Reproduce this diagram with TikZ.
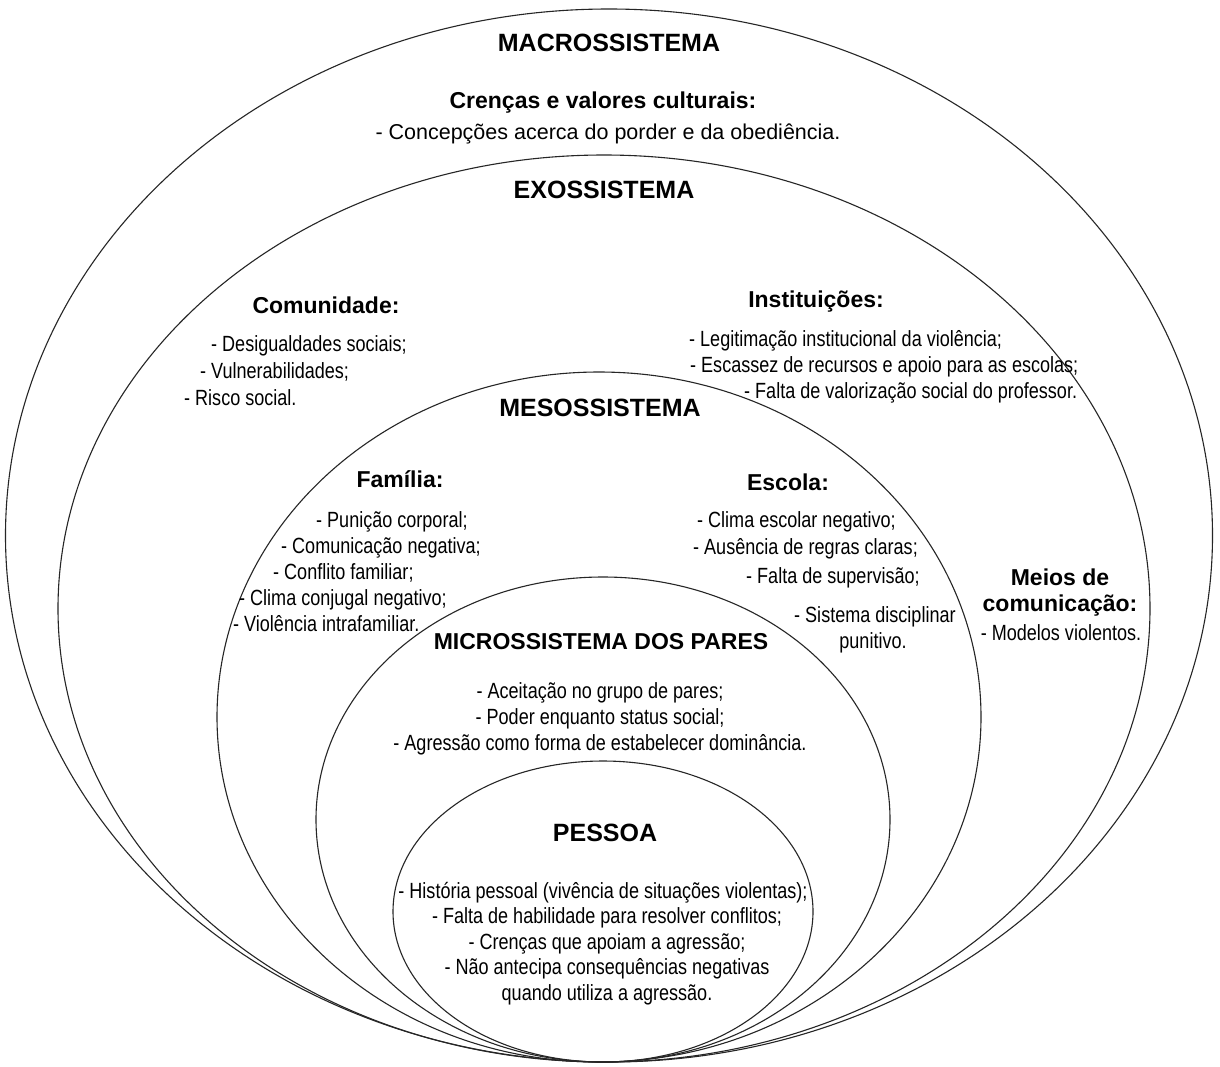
\documentclass[tikz,border=0pt]{standalone}
\usepackage{fontspec}
\setmainfont{Liberation Sans}
\newfontfamily\itemfont[FakeStretch=0.82]{Liberation Sans}

\begin{document}
\begin{tikzpicture}[x=1pt,y=-1pt,
  ring/.style={line width=1.1pt,draw=black!85},
  sysname/.style={inner sep=0pt,font=\fontsize{25}{28}\selectfont\bfseries},
  grouptitle/.style={inner sep=0pt,font=\fontsize{23}{27}\selectfont\bfseries},
  item/.style={inner sep=0pt,font=\fontsize{22}{26}\selectfont\itemfont},
  wideitem/.style={inner sep=0pt,font=\fontsize{21.5}{26}\selectfont}]
  \useasboundingbox (0,0) rectangle (1220,1066);
  \fill[white] (0,0) rectangle (1220,1066);
  \draw[ring] (609,535.5) ellipse [x radius=603.5,y radius=526.5];
  \draw[ring] (604,608.5) ellipse [x radius=546,y radius=453.5];
  \draw[ring] (599,717) ellipse [x radius=382,y radius=345];
  \draw[ring] (603,819.5) ellipse [x radius=287,y radius=242.5];
  \draw[ring] (603,911.5) ellipse [x radius=210,y radius=150.5];

  \node[sysname,anchor=base] (macro) at (609,51) {MACROSSISTEMA};
  \node[grouptitle,anchor=base] (crencas) at (603,108) {Crenças e valores culturais:};
  \node[wideitem,anchor=base] (concep) at (608,139) {- Concepções acerca do porder e da obediência.};

  \node[sysname,anchor=base] (exo) at (604,198) {EXOSSISTEMA};
  \node[grouptitle,anchor=base] (comunidade) at (326,313) {Comunidade:};
  \node[item,anchor=base west] (com1) at (211,351) {- Desigualdades sociais;};
  \node[item,anchor=base west] (com2) at (200,378) {- Vulnerabilidades;};
  \node[item,anchor=base west] (com3) at (184,405) {- Risco social.};
  \node[grouptitle,anchor=base] (instit) at (816,307) {Instituições:};
  \node[item,anchor=base west] (ins1) at (689,346) {- Legitimação institucional da violência;};
  \node[item,anchor=base west] (ins2) at (690,372) {- Escassez de recursos e apoio para as escolas;};
  \node[item,anchor=base west] (ins3) at (744,398) {- Falta de valorização social do professor.};
  \node[grouptitle,anchor=base] (meios) at (1060,585) {Meios de};
  \node[grouptitle,anchor=base] (meios2) at (1060,611) {comunicação:};
  \node[item,anchor=base] (med1) at (1061,640) {- Modelos violentos.};

  \node[sysname,anchor=base] (meso) at (600,416) {MESOSSISTEMA};
  \node[grouptitle,anchor=base] (familia) at (400,487) {Família:};
  \node[item,anchor=base west] (fam1) at (316,527) {- Punição corporal;};
  \node[item,anchor=base west] (fam2) at (281,553) {- Comunicação negativa;};
  \node[item,anchor=base west] (fam3) at (273,579) {- Conflito familiar;};
  \node[item,anchor=base west] (fam4) at (239,605) {- Clima conjugal negativo;};
  \node[item,anchor=base west] (fam5) at (233,631) {- Violência intrafamiliar.};
  \node[grouptitle,anchor=base] (escola) at (788,490) {Escola:};
  \node[item,anchor=base west] (esc1) at (697,527) {- Clima escolar negativo;};
  \node[item,anchor=base west] (esc2) at (693,554) {- Ausência de regras claras;};
  \node[item,anchor=base west] (esc3) at (746,583) {- Falta de supervisão;};
  \node[item,anchor=base west] (esc4) at (794,622) {- Sistema disciplinar};
  \node[item,anchor=base] (esc5) at (873,648) {punitivo.};

  \node[grouptitle,anchor=base] (micro) at (601,649) {MICROSSISTEMA DOS PARES};
  \node[item,anchor=base] (mic1) at (600,698) {- Aceitação no grupo de pares;};
  \node[item,anchor=base] (mic2) at (600,724) {- Poder enquanto status social;};
  \node[item,anchor=base] (mic3) at (600,750) {- Agressão como forma de estabelecer dominância.};

  \node[sysname,anchor=base] (pessoa) at (605,841) {PESSOA};
  \node[item,anchor=base] (pes1) at (603,898) {- História pessoal (vivência de situações violentas);};
  \node[item,anchor=base] (pes2) at (607,923.5) {- Falta de habilidade para resolver conflitos;};
  \node[item,anchor=base] (pes3) at (607,949) {- Crenças que apoiam a agressão;};
  \node[item,anchor=base] (pes4) at (607,974.5) {- Não antecipa consequências negativas};
  \node[item,anchor=base] (pes5) at (607,1000) {quando utiliza a agressão.};
\end{tikzpicture}
\end{document}
